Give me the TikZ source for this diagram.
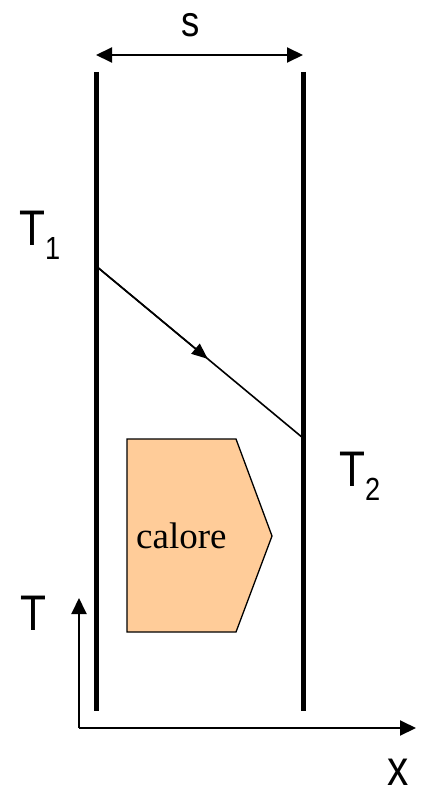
\documentclass[tikz,border=0pt]{standalone}
\usepackage{fontspec}
\setmainfont{Liberation Serif}
\setsansfont{Liberation Sans}
\newfontfamily\narrowsans[FakeStretch=0.85]{Liberation Sans}
\usetikzlibrary{arrows.meta,calc}
\definecolor{heat}{HTML}{FFCC99}
\tikzset{
  wall/.style ={line width=5pt},
  ar/.style   ={-{Triangle[length=16pt,width=15pt]},line width=2pt},
  dbl/.style  ={{Triangle[length=16pt,width=15pt]}-{Triangle[length=16pt,width=15pt]},line width=2pt},
  grad/.style ={line width=1.6pt},
  lbl/.style  ={font=\narrowsans\fontsize{50}{50}\selectfont,inner sep=0pt,anchor=base west},
  blob/.style ={draw,fill=heat,line width=1.3pt},
}
\newcommand{\lowsub}[1]{\raisebox{-14pt}{\fontsize{32}{32}\selectfont #1}}

\begin{document}
\begin{tikzpicture}[x=1pt,y=-1pt]
\useasboundingbox (0,0) rectangle (421,789);
% walls
\coordinate (LT) at (96,72);  \coordinate (LB) at (96,711);
\coordinate (RT) at (303,72); \coordinate (RB) at (303,711);
\draw[wall] (LT)--(LB); \draw[wall] (RT)--(RB);
% thickness
\coordinate (SL) at (96,55); \coordinate (SR) at (303,55);
\draw[dbl] (SL)--(SR);
\node[lbl,font=\narrowsans\fontsize{43}{43}\selectfont] (s) at (181,37) {s};
% temperature profile
\coordinate (G1) at (96,266); \coordinate (G2) at (303,438);
\draw[grad] (G1)--(G2);
\draw[grad,-{Triangle[length=16pt,width=13pt]}] (G1)--($(G1)!0.54!(G2)$);
\node[lbl] (T1) at (19,245) {T\lowsub{1}};
\node[lbl] (T2) at (339,486) {T\lowsub{2}};
% heat
\draw[blob] (127,439)--(236,439)--(272,536)--(236,632)--(127,632)--cycle;
\node[font=\fontsize{37}{37}\selectfont,inner sep=0pt,anchor=base west] (Q) at (136,548) {calore};
% axes
\coordinate (O) at (79,728); \coordinate (Ay) at (79,598); \coordinate (Ax) at (416,728);
\draw[ar] (O)--(Ay); \draw[ar] (O)--(Ax);
\node[lbl] (T) at (20,630) {T};
\node[lbl] (X) at (387,785) {x};
\end{tikzpicture}
\end{document}
